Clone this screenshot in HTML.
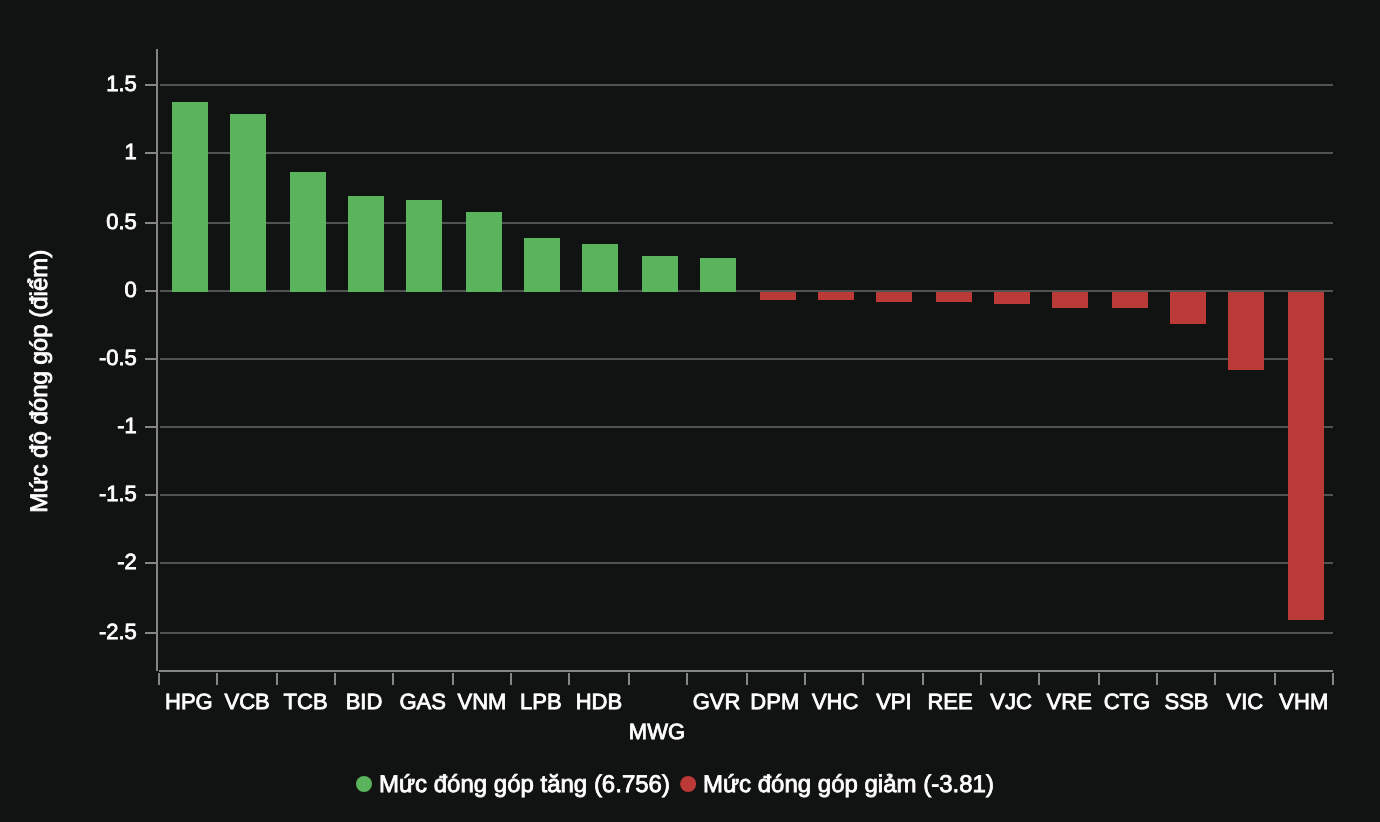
<!DOCTYPE html>
<html lang="vi"><head><meta charset="utf-8"><title>Mức độ đóng góp</title>
<style>
html,body{margin:0;padding:0;background:#111313;}
body{width:1380px;height:822px;overflow:hidden;}
svg{display:block;}
text{font-family:"Liberation Sans",sans-serif;fill:#ffffff;stroke:#ffffff;stroke-width:0.8px;text-rendering:geometricPrecision;}
.al{font-size:22px;}
.lg{font-size:24px;}
</style></head><body>
<svg width="1380" height="822" viewBox="0 0 1380 822">
<rect x="0" y="0" width="1380" height="822" fill="#111313"/>
<g shape-rendering="crispEdges">
<rect x="160" y="84" width="1173" height="2" fill="#525252"/>
<rect x="160" y="152" width="1173" height="2" fill="#525252"/>
<rect x="160" y="222" width="1173" height="2" fill="#525252"/>
<rect x="160" y="290" width="1173" height="2" fill="#525252"/>
<rect x="160" y="358" width="1173" height="2" fill="#525252"/>
<rect x="160" y="426" width="1173" height="2" fill="#525252"/>
<rect x="160" y="494" width="1173" height="2" fill="#525252"/>
<rect x="160" y="562" width="1173" height="2" fill="#525252"/>
<rect x="160" y="632" width="1173" height="2" fill="#525252"/>
<rect x="172" y="102" width="36" height="190" fill="#59b45c"/>
<rect x="230" y="114" width="36" height="178" fill="#59b45c"/>
<rect x="290" y="172" width="36" height="120" fill="#59b45c"/>
<rect x="348" y="196" width="36" height="96" fill="#59b45c"/>
<rect x="406" y="200" width="36" height="92" fill="#59b45c"/>
<rect x="466" y="212" width="36" height="80" fill="#59b45c"/>
<rect x="524" y="238" width="36" height="54" fill="#59b45c"/>
<rect x="582" y="244" width="36" height="48" fill="#59b45c"/>
<rect x="642" y="256" width="36" height="36" fill="#59b45c"/>
<rect x="700" y="258" width="36" height="34" fill="#59b45c"/>
<rect x="760" y="292" width="36" height="8" fill="#bb3936"/>
<rect x="818" y="292" width="36" height="8" fill="#bb3936"/>
<rect x="876" y="292" width="36" height="10" fill="#bb3936"/>
<rect x="936" y="292" width="36" height="10" fill="#bb3936"/>
<rect x="994" y="292" width="36" height="12" fill="#bb3936"/>
<rect x="1052" y="292" width="36" height="16" fill="#bb3936"/>
<rect x="1112" y="292" width="36" height="16" fill="#bb3936"/>
<rect x="1170" y="292" width="36" height="32" fill="#bb3936"/>
<rect x="1228" y="292" width="36" height="78" fill="#bb3936"/>
<rect x="1288" y="292" width="36" height="328" fill="#bb3936"/>
<rect x="156" y="49" width="2" height="622" fill="#858585"/>
<rect x="145" y="84" width="11" height="2" fill="#858585"/>
<rect x="145" y="152" width="11" height="2" fill="#858585"/>
<rect x="145" y="222" width="11" height="2" fill="#858585"/>
<rect x="145" y="290" width="11" height="2" fill="#858585"/>
<rect x="145" y="358" width="11" height="2" fill="#858585"/>
<rect x="145" y="426" width="11" height="2" fill="#858585"/>
<rect x="145" y="494" width="11" height="2" fill="#858585"/>
<rect x="145" y="562" width="11" height="2" fill="#858585"/>
<rect x="145" y="632" width="11" height="2" fill="#858585"/>
<rect x="159" y="670" width="1174" height="2" fill="#858585"/>
<rect x="158" y="673" width="2" height="12" fill="#858585"/>
<rect x="216" y="673" width="2" height="12" fill="#858585"/>
<rect x="276" y="673" width="2" height="12" fill="#858585"/>
<rect x="334" y="673" width="2" height="12" fill="#858585"/>
<rect x="392" y="673" width="2" height="12" fill="#858585"/>
<rect x="452" y="673" width="2" height="12" fill="#858585"/>
<rect x="510" y="673" width="2" height="12" fill="#858585"/>
<rect x="568" y="673" width="2" height="12" fill="#858585"/>
<rect x="628" y="673" width="2" height="12" fill="#858585"/>
<rect x="686" y="673" width="2" height="12" fill="#858585"/>
<rect x="746" y="673" width="2" height="12" fill="#858585"/>
<rect x="804" y="673" width="2" height="12" fill="#858585"/>
<rect x="862" y="673" width="2" height="12" fill="#858585"/>
<rect x="922" y="673" width="2" height="12" fill="#858585"/>
<rect x="980" y="673" width="2" height="12" fill="#858585"/>
<rect x="1038" y="673" width="2" height="12" fill="#858585"/>
<rect x="1098" y="673" width="2" height="12" fill="#858585"/>
<rect x="1156" y="673" width="2" height="12" fill="#858585"/>
<rect x="1214" y="673" width="2" height="12" fill="#858585"/>
<rect x="1274" y="673" width="2" height="12" fill="#858585"/>
<rect x="1332" y="673" width="2" height="12" fill="#858585"/>
</g>
<text class="al" transform="translate(136.8,91) scale(1,1.0)" text-anchor="end">1.5</text>
<text class="al" transform="translate(136.8,159) scale(1,1.0)" text-anchor="end">1</text>
<text class="al" transform="translate(136.8,229) scale(1,1.0)" text-anchor="end">0.5</text>
<text class="al" transform="translate(136.8,297) scale(1,1.0)" text-anchor="end">0</text>
<text class="al" transform="translate(136.8,365) scale(1,1.0)" text-anchor="end">-0.5</text>
<text class="al" transform="translate(136.8,433) scale(1,1.0)" text-anchor="end">-1</text>
<text class="al" transform="translate(136.8,501) scale(1,1.0)" text-anchor="end">-1.5</text>
<text class="al" transform="translate(136.8,569) scale(1,1.0)" text-anchor="end">-2</text>
<text class="al" transform="translate(136.8,639) scale(1,1.0)" text-anchor="end">-2.5</text>
<text class="al" transform="translate(188.9,708.6) scale(1,1.0)" text-anchor="middle">HPG</text>
<text class="al" transform="translate(247.1,708.6) scale(1,1.0)" text-anchor="middle">VCB</text>
<text class="al" transform="translate(305.6,708.6) scale(1,1.0)" text-anchor="middle">TCB</text>
<text class="al" transform="translate(364.0,708.6) scale(1,1.0)" text-anchor="middle">BID</text>
<text class="al" transform="translate(422.7,708.6) scale(1,1.0)" text-anchor="middle">GAS</text>
<text class="al" transform="translate(481.9,708.6) scale(1,1.0)" text-anchor="middle">VNM</text>
<text class="al" transform="translate(540.8,708.6) scale(1,1.0)" text-anchor="middle">LPB</text>
<text class="al" transform="translate(598.9,708.6) scale(1,1.0)" text-anchor="middle">HDB</text>
<text class="al" transform="translate(656.9,738.6) scale(1,1.0)" text-anchor="middle">MWG</text>
<text class="al" transform="translate(716.5,708.6) scale(1,1.0)" text-anchor="middle">GVR</text>
<text class="al" transform="translate(774.8,708.6) scale(1,1.0)" text-anchor="middle">DPM</text>
<text class="al" transform="translate(835.1,708.6) scale(1,1.0)" text-anchor="middle">VHC</text>
<text class="al" transform="translate(893.9,708.6) scale(1,1.0)" text-anchor="middle">VPI</text>
<text class="al" transform="translate(950.0,708.6) scale(1,1.0)" text-anchor="middle">REE</text>
<text class="al" transform="translate(1011.0,708.6) scale(1,1.0)" text-anchor="middle">VJC</text>
<text class="al" transform="translate(1069.2,708.6) scale(1,1.0)" text-anchor="middle">VRE</text>
<text class="al" transform="translate(1126.9,708.6) scale(1,1.0)" text-anchor="middle">CTG</text>
<text class="al" transform="translate(1186.5,708.6) scale(1,1.0)" text-anchor="middle">SSB</text>
<text class="al" transform="translate(1244.8,708.6) scale(1,1.0)" text-anchor="middle">VIC</text>
<text class="al" transform="translate(1303.8,708.6) scale(1,1.0)" text-anchor="middle">VHM</text>
<text class="lg" transform="translate(47.4,381.2) rotate(-90) scale(1,1.0)" text-anchor="middle">Mức độ đóng góp (điểm)</text>
<circle cx="364" cy="784" r="8" fill="#59b45c"/>
<text class="lg" transform="translate(379,792.3) scale(1,1.01)" text-anchor="start">Mức đóng góp tăng (6.756)</text>
<circle cx="688.15" cy="784" r="8" fill="#bb3936"/>
<text class="lg" transform="translate(703,792.3) scale(1,1.01)" text-anchor="start">Mức đóng góp giảm (-3.81)</text>
</svg></body></html>
